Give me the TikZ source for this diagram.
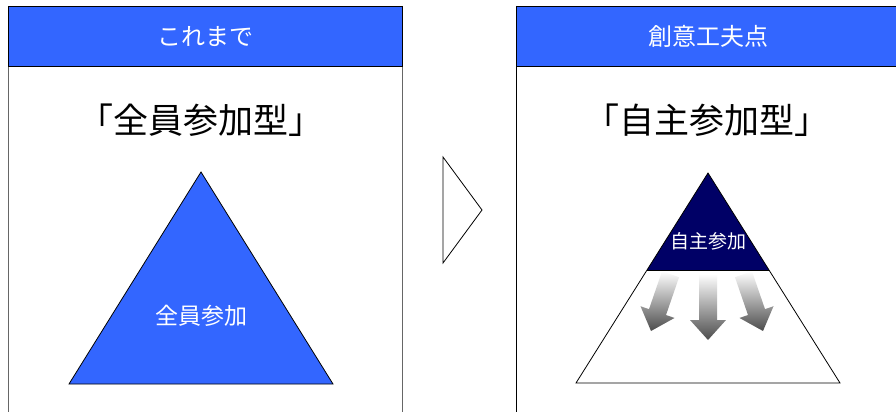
\documentclass[tikz,border=0pt]{standalone}
\usepackage{fontspec}
\setmainfont{Noto Sans CJK JP}
\definecolor{hdrblue}{HTML}{3366FF}
\definecolor{navy}{HTML}{000066}
\definecolor{boxline}{HTML}{666666}
\tikzset{
  header/.style={draw=black, fill=hdrblue, line width=0.8pt},
  hdrtext/.style={text=white, font=\fontsize{24}{28}\selectfont, inner sep=0pt},
  titletext/.style={text=black, font=\fontsize{35}{40}\selectfont, inner sep=0pt},
  side/.style={draw=boxline, line width=0.8pt},
  tri/.style={draw=black, line width=0.8pt},
  shadearrow/.style={top color=white, bottom color=black!70},
}
\begin{document}
\begin{tikzpicture}[x=1pt,y=-1pt]
\useasboundingbox (0,0) rectangle (896,412);
% left panel
\draw[side] (8,6) -- (8,412);
\draw[side] (402,6) -- (402,412);
\node[header, minimum width=394pt, minimum height=60pt, anchor=north west, inner sep=0pt] (lhead) at (8,6) {};
\node[hdrtext] (lhtext) at (lhead.center) {これまで};
\node[titletext] (ltitle) at (201,120) {「全員参加型」};
\fill[hdrblue] (201,172) -- (333,384) -- (69,384) -- cycle;
\draw[tri] (201,172) -- (333,384) -- (69,384) -- cycle;
\node[text=white, font=\fontsize{23}{26}\selectfont, inner sep=0pt] (ltri) at (201,316) {全員参加};
% chevron
\draw[line width=0.8pt] (443,157) -- (482,210) -- (443,263) -- cycle;
% right panel
\draw[side, draw=black] (516,6) -- (516,412);
\node[header, minimum width=384pt, minimum height=60pt, anchor=north west, inner sep=0pt] (rhead) at (516,6) {};
\node[hdrtext] (rhtext) at (rhead.center) {創意工夫点};
\node[titletext] (rtitle) at (707,120) {「自主参加型」};
\fill[white] (708,173) -- (840,383) -- (576,383) -- cycle;
\fill[navy] (708,173) -- (769,270) -- (647,270) -- cycle;
\draw[tri] (708,173) -- (840,383) -- (576,383) -- cycle;
\draw[line width=0.6pt, black] (647,270) -- (769,270);
\node[text=white, font=\fontsize{19}{22}\selectfont, inner sep=0pt] (rtri) at (708,241) {自主参加};
% arrows
\begin{scope}[shift={(651,331)}, rotate=-19]
\shade[shadearrow] (0,0) -- (-18,-20) -- (-9,-20) -- (-9,-60) -- (9,-60) -- (9,-20) -- (18,-20) -- cycle;
\end{scope}
\begin{scope}[shift={(708,340)}]
\shade[shadearrow] (0,0) -- (-18,-20) -- (-9,-20) -- (-9,-66) -- (9,-66) -- (9,-20) -- (18,-20) -- cycle;
\end{scope}
\begin{scope}[shift={(763,331)}, rotate=19]
\shade[shadearrow] (0,0) -- (-18,-20) -- (-9,-20) -- (-9,-60) -- (9,-60) -- (9,-20) -- (18,-20) -- cycle;
\end{scope}
\end{tikzpicture}
\end{document}
